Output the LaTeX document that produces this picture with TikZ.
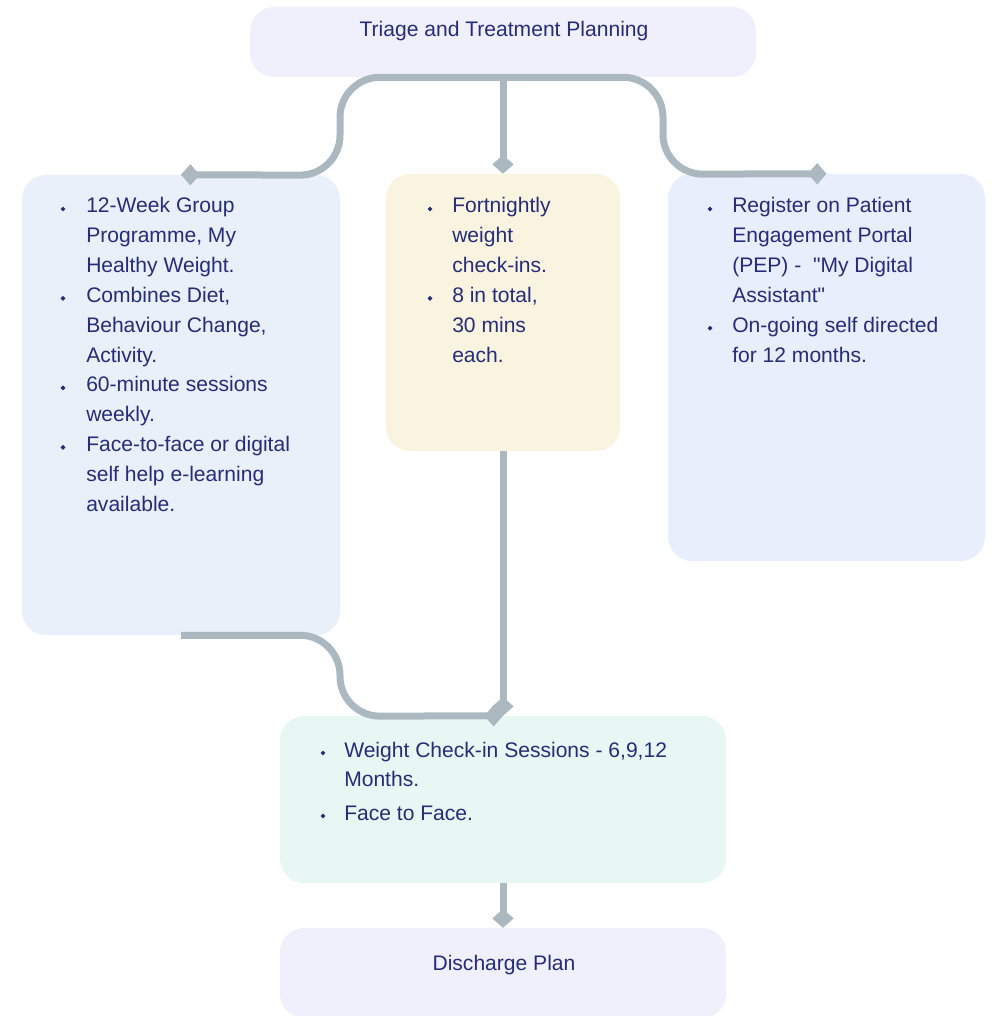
\documentclass[tikz,border=0pt]{standalone}
\usepackage{fontspec}
\setmainfont{Liberation Sans}
\usetikzlibrary{arrows.meta,fit}

\definecolor{ink}{RGB}{38,44,122}
\definecolor{wire}{RGB}{171,184,192}
\definecolor{lav}{RGB}{240,240,252}
\definecolor{skyb}{RGB}{233,240,249}
\definecolor{cream}{RGB}{249,244,224}
\definecolor{periw}{RGB}{233,238,252}
\definecolor{mint}{RGB}{232,247,243}

\tikzset{
  panel/.style={fill=#1, draw=none, inner sep=0pt, rounded corners=18pt},
  linetxt/.style={anchor=base west, inner sep=0pt, text=ink,
                  font=\fontsize{15.8}{18}\selectfont},
  midtxt/.style={anchor=base, inner sep=0pt, text=ink,
                 font=\fontsize{15.8}{18}\selectfont},
  dot/.style={fill=ink, draw=none, inner sep=0pt, minimum size=2.6pt, rotate=45},
  flow/.style={draw=wire, line width=5.25pt,
               -{Diamond[length=14pt,width=16pt]}},
}

\begin{document}
\begin{tikzpicture}[x=0.75pt,y=-0.75pt]
  \clip (0,0) rectangle (992,1016);

  % panels
  \node[panel=lav,   fit={(250,7)(756,77)}]    (T) {};
  \node[panel=skyb,  fit={(22,175)(340,635)}]  (L) {};
  \node[panel=cream, fit={(386,174)(620,451)}] (M) {};
  \node[panel=periw, fit={(668,174)(985,561)}] (R) {};
  \node[panel=mint,  fit={(280,716)(726,883)}] (B) {};
  \node[panel=lav,   fit={(280,928)(726,1018)}] (D) {};

  % connectors
  \draw[flow, rounded corners=30pt] (T.south) -- ++(-163,0) -- ++(0,98) -- (L.north);
  \draw[flow] (T.south) -- (M.north);
  \draw[flow, rounded corners=30pt] (T.south) -- ++(160,0) -- ++(0,97) -- (R.north);
  \draw[flow, rounded corners=30pt] (L.south) -- ++(159,0) -- ++(0,81) -- (B.north);
  \draw[flow] (M.south) -- (B.north);
  \draw[flow] (B.south) -- (D.north);

  % titles
  \node[midtxt] (ttitle) at (504,37) {Triage and Treatment Planning};
  \node[midtxt] (dtitle) at (504,970) {Discharge Plan};

  % left panel
  \node[dot] (lb1) at (63,209) {};
  \foreach \s [count=\k from 0] in {{12-Week Group},{Programme, My},{Healthy Weight.}}
    \node[linetxt] (la\k) at (86,{213+29.8*\k}) {\s};
  \node[dot] (lb2) at (63,298.4) {};
  \foreach \s [count=\k from 0] in {{Combines Diet,},{Behaviour Change,},{Activity.}}
    \node[linetxt] (lc\k) at (86,{302.4+29.8*\k}) {\s};
  \node[dot] (lb3) at (63,387.8) {};
  \foreach \s [count=\k from 0] in {{60-minute sessions},{weekly.}}
    \node[linetxt] (ld\k) at (86,{391.8+29.8*\k}) {\s};
  \node[dot] (lb4) at (63,447.4) {};
  \foreach \s [count=\k from 0] in {{Face-to-face or digital},{self help e-learning},{available.}}
    \node[linetxt] (le\k) at (86,{451.4+29.8*\k}) {\s};

  % middle panel
  \node[dot] (mb1) at (430,209) {};
  \foreach \s [count=\k from 0] in {{Fortnightly},{weight},{check-ins.}}
    \node[linetxt] (ma\k) at (452,{213+29.8*\k}) {\s};
  \node[dot] (mb2) at (430,298.4) {};
  \foreach \s [count=\k from 0] in {{8 in total,},{30 mins},{each.}}
    \node[linetxt] (mc\k) at (452,{302.4+29.8*\k}) {\s};

  % right panel
  \node[dot] (rb1) at (710,209) {};
  \foreach \s [count=\k from 0] in {{Register on Patient},{Engagement Portal},{(PEP) -~~\textquotedbl My Digital},{Assistant\textquotedbl}}
    \node[linetxt] (ra\k) at (732,{213+29.8*\k}) {\s};
  \node[dot] (rb2) at (710,328.2) {};
  \foreach \s [count=\k from 0] in {{On-going self directed},{for 12 months.}}
    \node[linetxt] (rc\k) at (732,{332.2+29.8*\k}) {\s};

  % check-in panel
  \node[dot] (bb1) at (323,753) {};
  \foreach \s [count=\k from 0] in {{Weight Check-in Sessions - 6,9,12},{Months.}}
    \node[linetxt] (ba\k) at (344,{757+29.8*\k}) {\s};
  \node[dot] (bb2) at (323,816) {};
  \node[linetxt] (bc0) at (344,820) {Face to Face.};
\end{tikzpicture}
\end{document}
